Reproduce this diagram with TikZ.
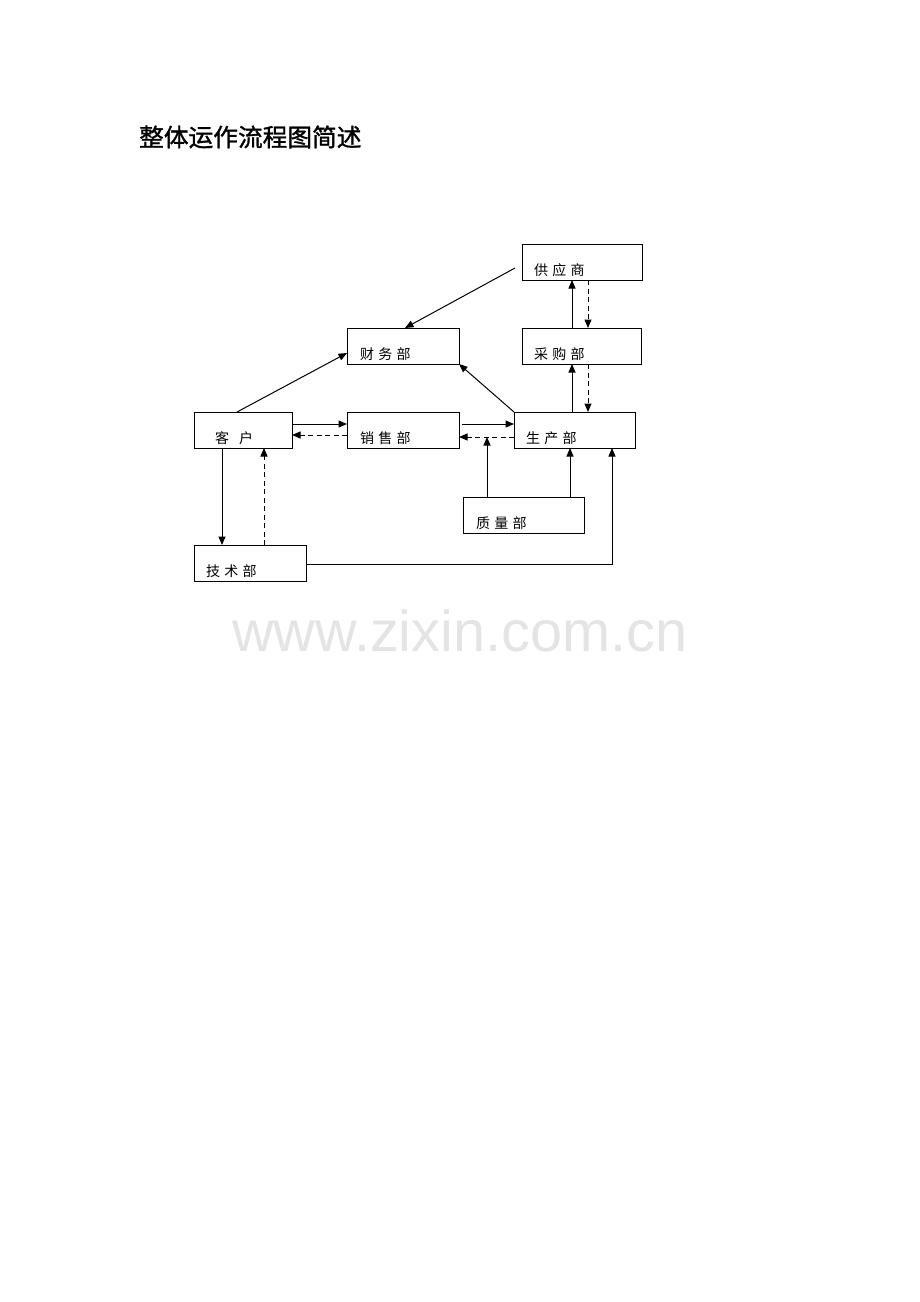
\documentclass[tikz,border=0pt]{standalone}
\usepackage{fontspec}
\usetikzlibrary{arrows.meta}
\newfontfamily\cjktitle[FakeBold=1.2]{Noto Sans CJK SC}
\newfontfamily\cjklab[LetterSpace=30]{Noto Sans CJK SC}
\setsansfont{Liberation Sans}
\definecolor{wm}{HTML}{E4E4E4}
\tikzset{
  box/.style={draw, line width=0.8pt, inner sep=0pt, outer sep=0pt, anchor=north west},
  lab/.style={inner sep=0pt, anchor=base west, font=\cjklab\fontsize{14}{14}\selectfont},
  arr/.style={line width=1pt, -{Triangle[length=8.5pt,width=7pt]}},
  darr/.style={arr, dash pattern=on 5pt off 3.5pt}
}
\begin{document}
\begin{tikzpicture}[x=1pt,y=-1pt]
\useasboundingbox (0,0) rectangle (920,1302);
% title
\node (title) [inner sep=0pt, anchor=west, font=\cjktitle\fontsize{24.7}{25}\selectfont] at (139,137) {整体运作流程图简述};
% boxes
\node (sup) [box, minimum width=120pt, minimum height=36pt] at (522,244) {};
\node (fin) [box, minimum width=112pt, minimum height=36pt] at (347,328) {};
\node (pur) [box, minimum width=119pt, minimum height=36pt] at (522,328) {};
\node (cus) [box, minimum width=98pt, minimum height=36pt] at (194,412) {};
\node (sal) [box, minimum width=112pt, minimum height=36pt] at (347,412) {};
\node (pro) [box, minimum width=121pt, minimum height=36pt] at (514,412) {};
\node (qua) [box, minimum width=121pt, minimum height=36pt] at (463,497) {};
\node (tec) [box, minimum width=112pt, minimum height=36pt] at (194,545) {};
% labels
\node (lsup) [lab] at (534,275) {供应商};
\node (lfin) [lab] at (360,359) {财务部};
\node (lpur) [lab] at (534,359) {采购部};
\node (lcus) [lab] at (215,443) {客\hspace{10pt}户};
\node (lsal) [lab] at (360,443) {销售部};
\node (lpro) [lab] at (526,443) {生产部};
\node (lqua) [lab] at (476,528) {质量部};
\node (ltec) [lab] at (206,576) {技术部};
% watermark
\node (wmark) [inner sep=0pt, anchor=base west, text=wm, font=\sffamily\fontsize{57.7}{58}\selectfont] at (232,651) {www.zixin.com.cn};
% connectors
\coordinate (s1) at (515,268);
\coordinate (s10) at (462,424);
\coordinate (dj) at (487,437);
\draw[arr] (s1) -- ([xshift=58pt]fin.north west);
\draw[arr] ([xshift=43pt]cus.north west) -- ([yshift=11pt]fin.south west);
\draw[arr] (pro.north west) -- (fin.south east);
\draw[arr] ([xshift=50pt]pur.north west) -- ([xshift=50pt]sup.south west);
\draw[darr] ([xshift=66pt]sup.south west) -- ([xshift=66pt]pur.north west);
\draw[arr] ([xshift=58pt]pro.north west) -- ([xshift=50pt]pur.south west);
\draw[darr] ([xshift=66pt]pur.south west) -- ([xshift=74pt]pro.north west);
\draw[arr] ([yshift=-12pt]cus.north east) -- ([yshift=-12pt]sal.north west);
\draw[darr] ([yshift=-23pt]sal.north west) -- ([yshift=-23pt]cus.north east);
\draw[arr] (s10) -- ([yshift=-12pt]pro.north west);
\draw[darr] ([yshift=-25pt]pro.north west) -- ([yshift=-25pt]sal.north east);
\draw[arr] ([xshift=24pt]qua.north west) -- (dj);
\draw[arr] ([xshift=107pt]qua.north west) -- ([xshift=56pt]pro.south west);
\draw[arr] ([xshift=28pt]cus.south west) -- ([xshift=28pt]tec.north west);
\draw[darr] ([xshift=70pt]tec.north west) -- ([xshift=70pt]cus.south west);
\draw[arr] ([yshift=-19pt]tec.north east) -| ([xshift=98pt]pro.south west);
\end{tikzpicture}
\end{document}
